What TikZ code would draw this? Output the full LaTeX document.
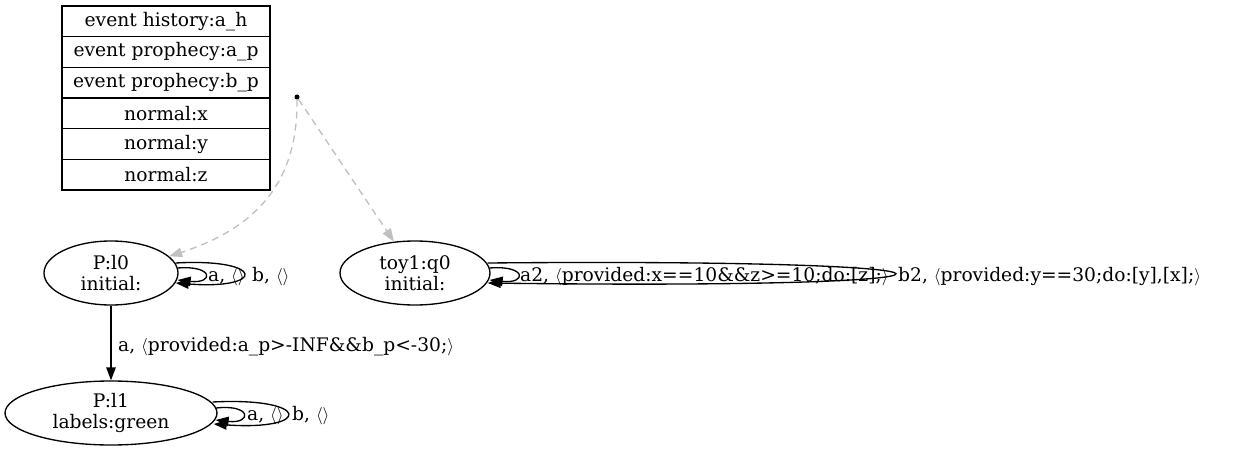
\documentclass[tikz,border=0pt]{standalone}
\usepackage{fontspec}
\setmainfont{DejaVu Serif}
\usetikzlibrary{shapes.geometric,arrows.meta,calc}
\begin{document}
\begin{tikzpicture}[x=1pt,y=-1pt,
  every node/.style={font=\fontsize{18.67}{21}\selectfont},
  rowbox/.style={draw,line width=1.33,minimum width=208,minimum height=30.67,inner sep=0},
  st/.style={draw,ellipse,line width=1.33,inner sep=0,align=center},
  edge/.style={line width=1.33,-{Triangle[length=13,width=9.5]}},
  initedge/.style={line width=1.33,draw={rgb,255:red,192;green,192;blue,192},dash pattern=on 7 off 5,-{Triangle[length=13,width=9.5,fill={rgb,255:red,192;green,192;blue,192}]}},
  lbl/.style={anchor=base west,inner sep=0}
]
\useasboundingbox (0,0) rectangle (1233,457);
\node[rowbox] (r1) at (166,21.3) {event history:a\_h};
\node[rowbox] (r2) at (166,52) {event prophecy:a\_p};
\node[rowbox] (r3) at (166,82.7) {event prophecy:b\_p};
\node[rowbox] (r4) at (166,113.3) {normal:x};
\node[rowbox] (r5) at (166,144) {normal:y};
\node[rowbox] (r6) at (166,174.7) {normal:z};

\node[circle,fill,inner sep=0,minimum size=5] (init) at (297,97) {};

\node[st,minimum width=134,minimum height=64] (l0) at (111,273) {P:l0\\initial:};
\node[st,minimum width=150,minimum height=64] (q0) at (415,273) {toy1:q0\\initial:};
\node[st,minimum width=212,minimum height=64] (l1) at (111,413) {P:l1\\labels:green};

\draw[initedge] (init) .. controls (298,188) and (250,230) .. (l0.16);
\draw[initedge] (init) -- (q0);

\draw[edge] (l0) -- (l1);
\node[lbl] (lab01) at (118,351) {a, $\langle$provided:a\_p>-INF\&\&b\_p<-30;$\rangle$};

% loops on l0
\coordinate (l0a) at ($(l0.east)+(-3,-10)$);
\coordinate (l0b) at ($(l0.east)+(-3,10)$);
\coordinate (l0c) at ($(l0.east)+(-1,-5)$);
\coordinate (l0d) at ($(l0.east)+(-1,7)$);
\draw[edge] (l0a) .. controls (266,258) and (266,290) .. (l0b);
\draw[edge] (l0c) .. controls (214,265) and (214,284) .. (l0d);
\node[lbl] (la0) at (208,281) {a, $\langle\rangle$};
\node[lbl] (lb0) at (252,281) {b, $\langle\rangle$};

% loops on q0
\coordinate (q0a) at ($(q0.east)+(-3,-10)$);
\coordinate (q0b) at ($(q0.east)+(-3,10)$);
\coordinate (q0c) at ($(q0.east)+(-1,-5)$);
\coordinate (q0d) at ($(q0.east)+(-1,7)$);
\draw[edge] (q0a) .. controls (1030,258) and (1030,290) .. (q0b);
\draw[edge] (q0c) .. controls (527,265) and (527,284) .. (q0d);
\node[lbl] (la1) at (520,281) {a2, $\langle$provided:x==10\&\&z>=10;do:[z];$\rangle$};
\node[lbl] (lb1) at (898,281) {b2, $\langle$provided:y==30;do:[y],[x];$\rangle$};

% loops on l1
\coordinate (l1a) at ($(l1.east)+(-5,-11)$);
\coordinate (l1b) at ($(l1.east)+(-4,11)$);
\coordinate (l1c) at ($(l1.east)+(-1.5,-5)$);
\coordinate (l1d) at ($(l1.east)+(-2,7)$);
\draw[edge] (l1a) .. controls (312,397) and (312,431) .. (l1b);
\draw[edge] (l1c) .. controls (252,404) and (252,424) .. (l1d);
\node[lbl] (la2) at (247,420) {a, $\langle\rangle$};
\node[lbl] (lb2) at (292,420) {b, $\langle\rangle$};
\end{tikzpicture}
\end{document}
